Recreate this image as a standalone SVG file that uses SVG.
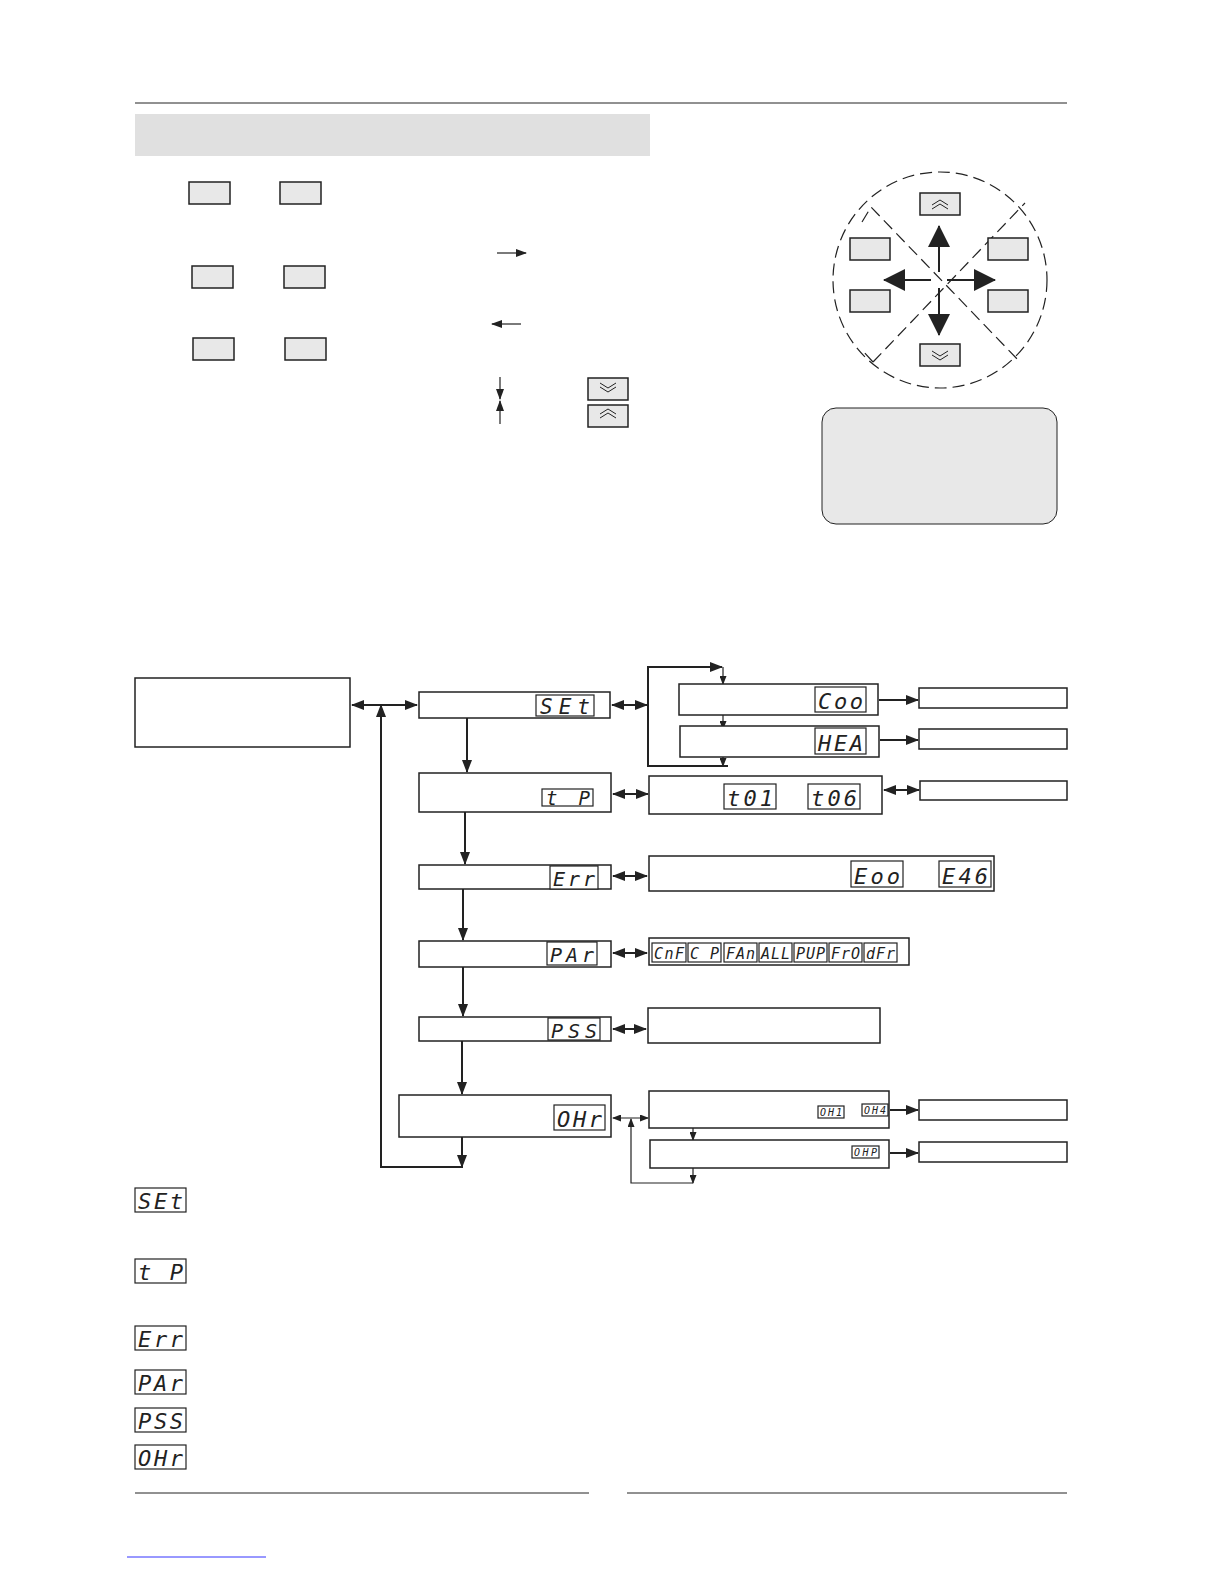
<svg xmlns="http://www.w3.org/2000/svg" width="1224" height="1584" viewBox="0 0 1224 1584">
<defs>
<marker id="ah" markerWidth="13" markerHeight="10" refX="12" refY="5" orient="auto" markerUnits="userSpaceOnUse"><path d="M0,0 L13,5 L0,10 z" fill="#222"/></marker>
<marker id="ahs" markerWidth="13" markerHeight="10" refX="12" refY="5" orient="auto-start-reverse" markerUnits="userSpaceOnUse"><path d="M0,0 L13,5 L0,10 z" fill="#222"/></marker>
<marker id="sm" markerWidth="9" markerHeight="7" refX="8" refY="3.5" orient="auto-start-reverse" markerUnits="userSpaceOnUse"><path d="M0,0 L9,3.5 L0,7 z" fill="#222"/></marker>
<marker id="lg" markerWidth="11" markerHeight="8" refX="10" refY="4" orient="auto-start-reverse" markerUnits="userSpaceOnUse"><path d="M0,0 L11,4 L0,8 z" fill="#222"/></marker>
<marker id="big" markerWidth="22" markerHeight="22" refX="21" refY="11" orient="auto-start-reverse" markerUnits="userSpaceOnUse"><path d="M0,0 L22,11 L0,22 z" fill="#222"/></marker>
</defs>
<style>
.b{fill:#fff;stroke:#222;stroke-width:1.5}
.k{fill:#e8e8e8;stroke:#222;stroke-width:1.5}
.g{fill:#fff;stroke:#222;stroke-width:1.2}
.c{fill:none;stroke:#222;stroke-width:2}
.t{fill:none;stroke:#222;stroke-width:1.2}
.s{font-family:"DejaVu Sans Mono",monospace;fill:#222;font-style:italic}
.ch{fill:none;stroke:#222;stroke-width:1}
</style>
<line x1="135" y1="103" x2="1067" y2="103" stroke="#222" stroke-width="1"/>
<rect x="135" y="114" width="515" height="42" fill="#e0e0e0"/>
<g id="legend">
<rect class="k" x="189" y="182" width="41" height="22"/><rect class="k" x="280" y="182" width="41" height="22"/>
<rect class="k" x="192" y="266" width="41" height="22"/><rect class="k" x="284" y="266" width="41" height="22"/>
<rect class="k" x="193" y="338" width="41" height="22"/><rect class="k" x="285" y="338" width="41" height="22"/>
<line class="t" x1="497" y1="253" x2="526" y2="253" marker-end="url(#lg)"/>
<line class="t" x1="521" y1="324" x2="492" y2="324" marker-end="url(#lg)"/>
<line class="t" x1="500" y1="377" x2="500" y2="399" marker-end="url(#lg)"/>
<line class="t" x1="500" y1="424" x2="500" y2="401" marker-end="url(#lg)"/>
<rect class="k" x="588" y="378" width="40" height="22"/><path class="ch" d="M600,383 l8,5 l8,-5 M600,387 l8,5 l8,-5"/>
<rect class="k" x="588" y="405" width="40" height="22"/><path class="ch" d="M600,414 l8,-5 l8,5 M600,418 l8,-5 l8,5"/>
</g>
<g id="keypad">
<ellipse cx="940" cy="280" rx="107" ry="108" fill="none" stroke="#222" stroke-width="1.2" stroke-dasharray="12,6"/>
<path d="M862,222 L871,207 L1020,362 M873,362 L1025,203 M873,362 L862,350" fill="none" stroke="#222" stroke-width="1.2" stroke-dasharray="12,6"/>
<rect class="k" x="920" y="193" width="40" height="22"/><path class="ch" d="M932,205 l8,-5 l8,5 M932,209 l8,-5 l8,5"/>
<rect class="k" x="920" y="344" width="40" height="22"/><path class="ch" d="M932,351 l8,5 l8,-5 M932,355 l8,5 l8,-5"/>
<rect class="k" x="850" y="238" width="40" height="22"/><rect class="k" x="850" y="290" width="40" height="22"/>
<rect class="k" x="988" y="238" width="40" height="22"/><rect class="k" x="988" y="290" width="40" height="22"/>
<line x1="939" y1="272" x2="939" y2="226" stroke="#222" stroke-width="2" marker-end="url(#big)"/>
<line x1="939" y1="288" x2="939" y2="335" stroke="#222" stroke-width="2" marker-end="url(#big)"/>
<line x1="931" y1="280" x2="884" y2="280" stroke="#222" stroke-width="2" marker-end="url(#big)"/>
<line x1="947" y1="280" x2="995" y2="280" stroke="#222" stroke-width="2" marker-end="url(#big)"/>
<rect x="822" y="408" width="235" height="116" rx="14" fill="#e8e8e8" stroke="#222" stroke-width="1"/>
</g>
<g id="connectors">
<line class="c" x1="352" y1="705" x2="417" y2="705" marker-start="url(#ahs)" marker-end="url(#ahs)"/>
<path class="c" d="M462,1137 L462,1167 L381,1167 L381,705" marker-end="url(#ah)"/>
<line class="c" x1="462" y1="1150" x2="462" y2="1167" marker-end="url(#ah)"/>
<line class="c" x1="467" y1="718" x2="467" y2="772" marker-end="url(#ah)"/>
<line class="c" x1="465" y1="812" x2="465" y2="864" marker-end="url(#ah)"/>
<line class="c" x1="463" y1="889" x2="463" y2="940" marker-end="url(#ah)"/>
<line class="c" x1="463" y1="967" x2="463" y2="1016" marker-end="url(#ah)"/>
<line class="c" x1="462" y1="1041" x2="462" y2="1094" marker-end="url(#ah)"/>
<line class="c" x1="612" y1="705" x2="647" y2="705" marker-start="url(#ahs)" marker-end="url(#ahs)"/>
<path class="c" d="M728,766 L648,766 L648,667 L722,667" marker-end="url(#ah)"/>
<line class="t" x1="723" y1="667" x2="723" y2="684" marker-end="url(#sm)"/>
<line class="t" x1="723" y1="715" x2="723" y2="729" marker-end="url(#sm)"/>
<line class="t" x1="723" y1="755" x2="723" y2="766" marker-end="url(#sm)"/>
<line class="c" x1="879" y1="700" x2="918" y2="700" marker-end="url(#ah)"/>
<line class="c" x1="880" y1="740" x2="918" y2="740" marker-end="url(#ah)"/>
<line class="c" x1="613" y1="794" x2="648" y2="794" marker-start="url(#ahs)" marker-end="url(#ahs)"/>
<line class="c" x1="884" y1="790" x2="919" y2="790" marker-start="url(#ahs)" marker-end="url(#ahs)"/>
<line class="c" x1="613" y1="876" x2="647" y2="876" marker-start="url(#ahs)" marker-end="url(#ahs)"/>
<line class="c" x1="613" y1="953" x2="647" y2="953" marker-start="url(#ahs)" marker-end="url(#ahs)"/>
<line class="c" x1="613" y1="1029" x2="646" y2="1029" marker-start="url(#ahs)" marker-end="url(#ahs)"/>
<line class="t" x1="613" y1="1118" x2="648" y2="1118" marker-start="url(#sm)" marker-end="url(#sm)"/>
<path class="t" d="M693,1183 L631,1183 L631,1119" marker-end="url(#sm)"/>
<line class="t" x1="693" y1="1128" x2="693" y2="1140" marker-end="url(#sm)"/>
<line class="t" x1="693" y1="1168" x2="693" y2="1183" marker-end="url(#sm)"/>
<line class="c" x1="890" y1="1110" x2="918" y2="1110" marker-end="url(#ah)"/>
<line class="c" x1="890" y1="1153" x2="918" y2="1153" marker-end="url(#ah)"/>
</g>
<g id="main"><rect class="b" x="135" y="678" width="215" height="69"/></g>
<g id="set"><rect class="b" x="419" y="692" width="191" height="26"/><rect class="g" x="536" y="695" width="58" height="21"/><text class="s" x="540" y="714" font-size="21" textLength="50">SEt</text></g>
<g id="tp"><rect class="b" x="419" y="773" width="192" height="39"/><rect class="g" x="542" y="789" width="51" height="17"/><text class="s" x="546" y="805" font-size="19" textLength="44"> tP</text></g>
<g id="err"><rect class="b" x="419" y="865" width="192" height="24"/><rect class="g" x="550" y="866" width="48" height="23"/><text class="s" x="553" y="886" font-size="20" textLength="42">Err</text></g>
<g id="par"><rect class="b" x="419" y="941" width="192" height="26"/><rect class="g" x="547" y="942" width="50" height="23"/><text class="s" x="550" y="962" font-size="20" textLength="44">PAr</text></g>
<g id="pss"><rect class="b" x="419" y="1017" width="192" height="24"/><rect class="g" x="548" y="1018" width="52" height="22"/><text class="s" x="551" y="1038" font-size="20" textLength="46">PSS</text></g>
<g id="ohr"><rect class="b" x="399" y="1095" width="212" height="42"/><rect class="g" x="554" y="1105" width="51" height="25"/><text class="s" x="557" y="1127" font-size="22" textLength="45">OHr</text></g>
<g id="coo"><rect class="b" x="679" y="684" width="199" height="31"/><rect class="g" x="815" y="687" width="51" height="25"/><text class="s" x="818" y="709" font-size="22" textLength="45">Coo</text></g>
<g id="hea"><rect class="b" x="680" y="726" width="199" height="31"/><rect class="g" x="815" y="728" width="51" height="26"/><text class="s" x="818" y="751" font-size="22" textLength="45">HEA</text></g>
<g id="r1"><rect class="b" x="919" y="688" width="148" height="20"/></g>
<g id="r2"><rect class="b" x="919" y="729" width="148" height="20"/></g>
<g id="t01"><rect class="b" x="649" y="776" width="233" height="38"/><rect class="g" x="724" y="784" width="52" height="25"/><text class="s" x="727" y="806" font-size="22" textLength="46">t01</text><rect class="g" x="808" y="784" width="52" height="25"/><text class="s" x="811" y="806" font-size="22" textLength="46">t06</text></g>
<g id="r3"><rect class="b" x="920" y="781" width="147" height="19"/></g>
<g id="errlist"><rect class="b" x="649" y="856" width="345" height="35"/><rect class="g" x="851" y="861" width="52" height="26"/><text class="s" x="854" y="884" font-size="22" textLength="46">Eoo</text><rect class="g" x="939" y="861" width="52" height="26"/><text class="s" x="942" y="884" font-size="22" textLength="46">E46</text></g>
<g id="parlist"><rect class="b" x="649" y="938" width="260" height="27"/>
<rect class="g" x="652" y="943" width="34" height="19"/><text class="s" x="654" y="959" font-size="15" textLength="30">CnF</text>
<rect class="g" x="688" y="943" width="33" height="19"/><text class="s" x="690" y="959" font-size="15" textLength="29">CP </text>
<rect class="g" x="724" y="943" width="33" height="19"/><text class="s" x="726" y="959" font-size="15" textLength="29">FAn</text>
<rect class="g" x="759" y="943" width="33" height="19"/><text class="s" x="761" y="959" font-size="15" textLength="29">ALL</text>
<rect class="g" x="794" y="943" width="33" height="19"/><text class="s" x="796" y="959" font-size="15" textLength="29">PUP</text>
<rect class="g" x="829" y="943" width="33" height="19"/><text class="s" x="831" y="959" font-size="15" textLength="29">FrO</text>
<rect class="g" x="864" y="943" width="33" height="19"/><text class="s" x="866" y="959" font-size="15" textLength="29">dFr</text></g>
<g id="pssbox"><rect class="b" x="648" y="1008" width="232" height="35"/></g>
<g id="oh1"><rect class="b" x="649" y="1091" width="240" height="37"/><rect class="g" x="818" y="1106" width="26" height="12"/><text class="s" x="820" y="1116" font-size="10" textLength="22">OH1</text><rect class="g" x="862" y="1104" width="26" height="12"/><text class="s" x="864" y="1114" font-size="10" textLength="22">OH4</text></g>
<g id="ohp"><rect class="b" x="650" y="1140" width="239" height="28"/><rect class="g" x="852" y="1146" width="27" height="12"/><text class="s" x="854" y="1156" font-size="10" textLength="23">OHP</text></g>
<g id="r4"><rect class="b" x="919" y="1100" width="148" height="20"/></g>
<g id="r5"><rect class="b" x="919" y="1142" width="148" height="20"/></g>
<g id="keylist">
<rect class="g" x="135" y="1188" width="51" height="24"/><text class="s" x="138" y="1209" font-size="22" textLength="45">SEt</text>
<rect class="g" x="135" y="1259" width="51" height="24"/><text class="s" x="138" y="1280" font-size="22" textLength="45"> tP</text>
<rect class="g" x="135" y="1326" width="51" height="24"/><text class="s" x="138" y="1347" font-size="22" textLength="45">Err</text>
<rect class="g" x="135" y="1370" width="51" height="24"/><text class="s" x="138" y="1391" font-size="22" textLength="45">PAr</text>
<rect class="g" x="135" y="1408" width="51" height="24"/><text class="s" x="138" y="1429" font-size="22" textLength="45">PSS</text>
<rect class="g" x="135" y="1445" width="51" height="24"/><text class="s" x="138" y="1466" font-size="22" textLength="45">OHr</text>
</g>
<line x1="135" y1="1493" x2="589" y2="1493" stroke="#222" stroke-width="1"/>
<line x1="627" y1="1493" x2="1067" y2="1493" stroke="#222" stroke-width="1"/>
<line x1="127" y1="1557" x2="266" y2="1557" stroke="#33f" stroke-width="1"/>
</svg>
